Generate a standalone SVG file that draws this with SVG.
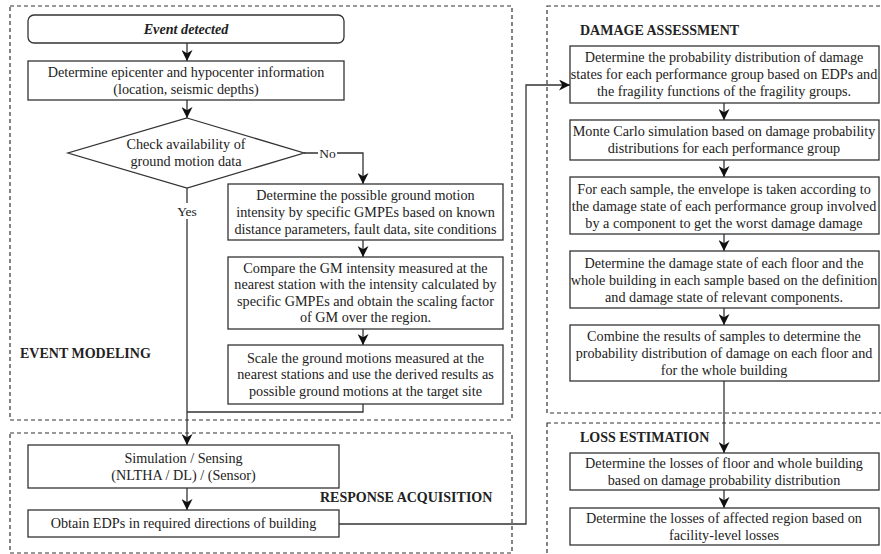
<svg xmlns="http://www.w3.org/2000/svg" width="881" height="554" viewBox="0 0 881 554">
<style>
.box{fill:#fff;stroke:#333;stroke-width:1.3}
.grp{fill:none;stroke:#333;stroke-width:1.2;stroke-dasharray:4 3}
.t{font-family:'Liberation Serif','Times New Roman','DejaVu Serif',serif;font-size:14.2px;fill:#222;text-anchor:middle}
.h{font-family:'Liberation Serif','Times New Roman','DejaVu Serif',serif;font-size:14px;font-weight:bold;fill:#222}
.c{fill:none;stroke:#333;stroke-width:1.3}
.lbl{font-family:'Liberation Serif','Times New Roman','DejaVu Serif',serif;font-size:13.5px;fill:#222;text-anchor:middle}
</style>
<defs>
<marker id="arr" markerUnits="userSpaceOnUse" markerWidth="11" markerHeight="11" refX="10" refY="5" orient="auto" viewBox="0 0 10 10">
<path d="M0,0 L10,5 L0,10 L3,5 z" fill="#111"/>
</marker>
</defs>
<rect width="881" height="554" fill="#fff"/>

<g id="groups">
<rect class="grp" x="10" y="6" width="502" height="414"/>
<rect class="grp" x="10" y="433" width="502" height="120"/>
<rect class="grp" x="547" y="6" width="360" height="407"/>
<rect class="grp" x="547" y="423" width="360" height="160"/>
<text class="h" x="20" y="358">EVENT MODELING</text>
<text class="h" x="320" y="502">RESPONSE ACQUISITION</text>
<text class="h" x="580" y="35">DAMAGE ASSESSMENT</text>
<text class="h" x="580" y="442">LOSS ESTIMATION</text>
</g>

<g id="connectors">
<line class="c" x1="187" y1="43" x2="187" y2="61" marker-end="url(#arr)"/>
<line class="c" x1="187" y1="100" x2="187" y2="118" marker-end="url(#arr)"/>
<line class="c" x1="187" y1="188" x2="187" y2="445" marker-end="url(#arr)"/>
<polyline class="c" points="304,153 363,153 363,184" marker-end="url(#arr)"/>
<line class="c" x1="363" y1="240" x2="363" y2="257" marker-end="url(#arr)"/>
<line class="c" x1="363" y1="329" x2="363" y2="345" marker-end="url(#arr)"/>
<polyline class="c" points="363,404 363,412 187,412"/>
<line class="c" x1="187" y1="488" x2="187" y2="510" marker-end="url(#arr)"/>
<polyline class="c" points="339,524 526,524 526,85 570,85" marker-end="url(#arr)"/>
<line class="c" x1="724" y1="103" x2="724" y2="120" marker-end="url(#arr)"/>
<line class="c" x1="724" y1="160" x2="724" y2="177" marker-end="url(#arr)"/>
<line class="c" x1="724" y1="234" x2="724" y2="251" marker-end="url(#arr)"/>
<line class="c" x1="724" y1="308" x2="724" y2="325" marker-end="url(#arr)"/>
<line class="c" x1="724" y1="381" x2="724" y2="453" marker-end="url(#arr)"/>
<line class="c" x1="724" y1="490" x2="724" y2="508" marker-end="url(#arr)"/>
<rect x="175" y="203" width="24" height="16" fill="#fff"/>
<text class="lbl" x="187" y="215.5">Yes</text>
<rect x="318" y="146" width="19" height="14" fill="#fff"/>
<text class="lbl" x="327.5" y="157.5">No</text>
</g>

<g id="n-event">
<rect class="box" x="28" y="15" width="316" height="28" rx="6"/>
<text class="t" x="186" y="33.5" font-weight="bold" font-style="italic">Event detected</text>
</g>
<g id="n-epicenter">
<rect class="box" x="28" y="61" width="316" height="39"/>
<text class="t" x="186" y="76.5">Determine epicenter and hypocenter information</text>
<text class="t" x="186" y="93.5">(location, seismic depths)</text>
</g>
<g id="n-check">
<polygon class="box" points="187,118 304,153 187,188 68,153"/>
<text class="t" x="186" y="149">Check availability of</text>
<text class="t" x="186" y="166">ground motion data</text>
</g>
<g id="n-gmpe">
<rect class="box" x="228" y="184" width="275" height="56"/>
<text class="t" x="365.5" y="199.5">Determine the possible ground motion</text>
<text class="t" x="365.5" y="216.5">intensity by specific GMPEs based on known</text>
<text class="t" x="365.5" y="233.5">distance parameters, fault data, site conditions</text>
</g>
<g id="n-compare">
<rect class="box" x="228" y="257" width="275" height="72"/>
<text class="t" x="365.5" y="272.5">Compare the GM intensity measured at the</text>
<text class="t" x="365.5" y="289">nearest station with the intensity calculated by</text>
<text class="t" x="365.5" y="305.5">specific GMPEs and obtain the scaling factor</text>
<text class="t" x="365.5" y="322">of GM over the region.</text>
</g>
<g id="n-scale">
<rect class="box" x="228" y="345" width="275" height="59"/>
<text class="t" x="365.5" y="362.5">Scale the ground motions measured at the</text>
<text class="t" x="365.5" y="379">nearest stations and use the derived results as</text>
<text class="t" x="365.5" y="395.5">possible ground motions at the target site</text>
</g>
<g id="n-sim">
<rect class="box" x="28" y="445" width="311" height="43"/>
<text class="t" x="183.5" y="462.5">Simulation / Sensing</text>
<text class="t" x="183.5" y="479.5">(NLTHA / DL) / (Sensor)</text>
</g>
<g id="n-edp">
<rect class="box" x="28" y="510" width="311" height="27"/>
<text class="t" x="183.5" y="528">Obtain EDPs in required directions of building</text>
</g>
<g id="n-d1">
<rect class="box" x="570" y="46" width="309" height="57"/>
<text class="t" x="724" y="62">Determine the probability distribution of damage</text>
<text class="t" x="724" y="79">states for each performance group based on EDPs and</text>
<text class="t" x="724" y="96">the fragility functions of the fragility groups.</text>
</g>
<g id="n-d2">
<rect class="box" x="570" y="120" width="309" height="40"/>
<text class="t" x="724" y="136">Monte Carlo simulation based on damage probability</text>
<text class="t" x="724" y="153">distributions for each performance group</text>
</g>
<g id="n-d3">
<rect class="box" x="570" y="177" width="309" height="57"/>
<text class="t" x="724" y="193.5">For each sample, the envelope is taken according to</text>
<text class="t" x="724" y="210.5">the damage state of each performance group involved</text>
<text class="t" x="724" y="227.5">by a component to get the worst damage damage</text>
</g>
<g id="n-d4">
<rect class="box" x="570" y="251" width="309" height="57"/>
<text class="t" x="724" y="267.5">Determine the damage state of each floor and the</text>
<text class="t" x="724" y="284.5">whole building in each sample based on the definition</text>
<text class="t" x="724" y="301.5">and damage state of relevant components.</text>
</g>
<g id="n-d5">
<rect class="box" x="570" y="325" width="309" height="56"/>
<text class="t" x="724" y="341">Combine the results of samples to determine the</text>
<text class="t" x="724" y="358">probability distribution of damage on each floor and</text>
<text class="t" x="724" y="375">for the whole building</text>
</g>
<g id="n-l1">
<rect class="box" x="570" y="453" width="309" height="37"/>
<text class="t" x="724" y="467.5">Determine the losses of floor and whole building</text>
<text class="t" x="724" y="484.5">based on damage probability distribution</text>
</g>
<g id="n-l2">
<rect class="box" x="570" y="508" width="309" height="37"/>
<text class="t" x="724" y="522.5">Determine the losses of affected region based on</text>
<text class="t" x="724" y="539.5">facility-level losses</text>
</g>
</svg>
